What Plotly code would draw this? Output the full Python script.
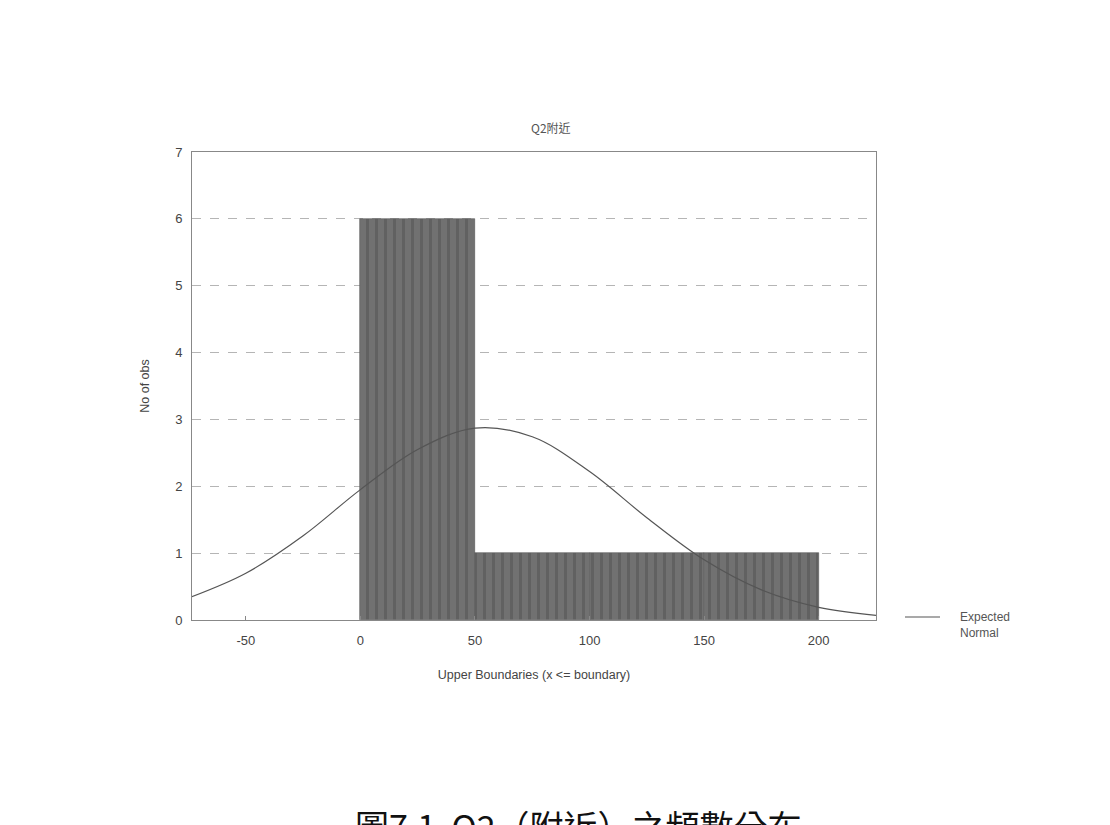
import plotly.graph_objects as go

# Histogram data (bins of width 50, labelled by upper boundary)
bin_centers = [25, 75, 125, 175]
bin_counts = [6, 1, 1, 1]
bin_width = 50

# Expected normal curve
curve_x = [-75, -50, -25, 0, 25, 50, 75, 100, 125, 150, 175, 200, 225]
curve_y = [0.33, 0.70, 1.26, 1.95, 2.55, 2.87, 2.74, 2.22, 1.53, 0.90, 0.45, 0.19, 0.07]

x_ticks = [-50, 0, 50, 100, 150, 200]
x_tick_labels = ["-50", "0", "50", "100", "150", "200"]
y_ticks = [0, 1, 2, 3, 4, 5, 6, 7]

FONT = "Liberation Sans, Arial, Noto Sans CJK TC, sans-serif"
CJK = "Noto Sans CJK TC, Noto Sans CJK SC, sans-serif"

W, H = 1102, 817
L, T = 184, 144
PW, PH = 684, 468


def px(xp):
    return (xp - 8 - L) / PW


def py(yp):
    return (T + PH - (yp - 8)) / PH


fig = go.Figure()
fig.add_trace(go.Bar(
    x=bin_centers, y=bin_counts, width=bin_width,
    marker=dict(color="#6a6a6a", line=dict(color="#5a5a5a", width=0.6),
                pattern=dict(shape="|", fgcolor="#525252", bgcolor="#717171",
                             size=9, solidity=0.35)),
    showlegend=False, hoverinfo="skip",
))
fig.add_trace(go.Scatter(
    x=curve_x, y=curve_y, mode="lines", line=dict(color="#555555", width=1.2, shape="spline"),
    name="Expected Normal", showlegend=False,
))

fig.update_layout(
    width=W, height=H,
    margin=dict(l=L, r=W - L - PW, t=T, b=H - T - PH),
    paper_bgcolor="white", plot_bgcolor="white",
    font=dict(family=FONT, size=12, color="#444444"),
    bargap=0,
    showlegend=False,
    xaxis=dict(range=[-73.5, 225], tickvals=x_ticks, ticktext=x_tick_labels,
               ticks="inside", ticklen=4, ticklabelstandoff=8,
               tickcolor="#888", showgrid=False, zeroline=False,
               showline=True, linecolor="#888888", linewidth=1, mirror=True,
               tickfont=dict(size=13, color="#444"),
               title=dict(text="Upper Boundaries (x <= boundary)", standoff=23,
                          font=dict(size=12.5, color="#444"))),
    yaxis=dict(range=[0, 7], tickvals=y_ticks, ticks="", showgrid=True, ticklabelstandoff=6,
               gridcolor="#b5b5b5", griddash="dash", gridwidth=1, zeroline=False,
               showline=True, linecolor="#888888", linewidth=1, mirror=True,
               tickfont=dict(size=13, color="#444"),
               title=dict(text="No of obs", standoff=22, font=dict(size=12.5, color="#444"))),
    shapes=[
        dict(type="line", xref="paper", yref="paper", x0=px(905), x1=px(940),
             y0=py(617), y1=py(617), line=dict(color="#555555", width=1.2)),
    ],
    annotations=[
        dict(text="Q2附近", x=0.525, y=1.053, xref="paper", yref="paper",
             showarrow=False, font=dict(family=CJK, size=12, color="#555"),
             xanchor="center", yanchor="middle"),
        dict(text="Expected<br>Normal", x=px(958), y=py(608), xref="paper", yref="paper",
             showarrow=False, font=dict(size=12, color="#555"), align="left",
             xanchor="left", yanchor="top"),
        dict(text="圖7.1  Q2（附近）之頻數分布", x=px(353), y=py(799),
             xref="paper", yref="paper", showarrow=False,
             font=dict(family=CJK, size=34, color="#111"),
             xanchor="left", yanchor="top"),
    ],
)

fig.write_html("out.html")
